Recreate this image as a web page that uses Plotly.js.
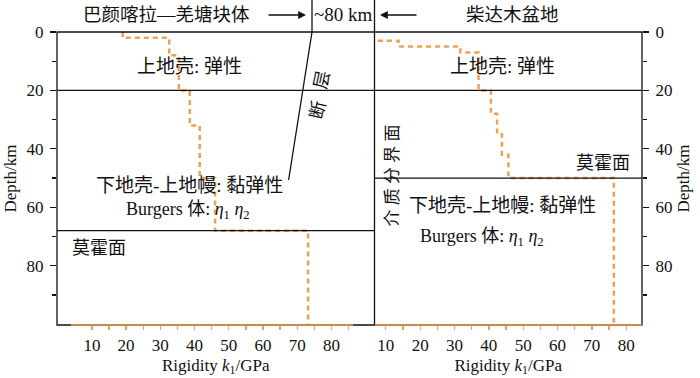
<!DOCTYPE html>
<html><head><meta charset="utf-8">
<script src="https://cdn.plot.ly/plotly-3.0.1.min.js"></script>
<style>html,body{margin:0;padding:0;background:#fff}</style>
</head><body>
<div id="chart" style="width:700px;height:378px"></div>
<script>
// ---- data ----
const leftDepthTop = [0, 2, 8, 20, 32, 50, 68];
const leftRigidity = [19, 32.6, 35.4, 38.6, 41.5, 46, 73.2];
const rightDepthTop = [0, 3, 5, 7, 20, 28, 35, 42, 50];
const rightRigidity = [5, 13.7, 31.7, 37, 40.6, 42.4, 43.8, 45.7, 76.4];
const bottomDepth = 100;
const upperCrustBase = 20;
const mohoLeft = 68;
const mohoRight = 50;
const yTickVals = [0, 20, 40, 60, 80];
const yMinorVals = [10, 30, 50, 70, 90];
const xTickVals = [10, 20, 30, 40, 50, 60, 70, 80];
const xMinorLeft = [15, 25, 35, 45, 55, 65, 75, 85];
const xMinorRight = [15, 25, 35, 45, 55, 65, 75];

// ---- helpers ----
const W = 700, H = 378;
const px = v => v / W;
const py = v => 1 - v / H;
const ORANGE = '#f0a055';
const FONT = 'Liberation Serif, Noto Sans CJK SC, serif';

function stepTrace(rig, depth, xa, ya) {
  return {
    x: rig.concat([rig[rig.length - 1]]),
    y: depth.concat([bottomDepth]),
    xaxis: xa, yaxis: ya,
    type: 'scatter', mode: 'lines',
    line: {shape: 'vh', color: ORANGE, width: 2.5, dash: '5px,4px'},
    hoverinfo: 'skip', showlegend: false
  };
}

const traces = [
  stepTrace(leftRigidity, leftDepthTop, 'x', 'y'),
  stepTrace(rightRigidity, rightDepthTop, 'x2', 'y2')
];

const yDomain = [py(325), py(32)];
const xTitle = {text: 'Rigidity <i>k</i><sub>1</sub>/GPa', font: {family: FONT, size: 17, color: '#111'}, standoff: 4};
const yTitle = {text: 'Depth/km', font: {family: FONT, size: 17, color: '#111'}, standoff: 5};

function xAxis(domain, range, minor) {
  return {
    domain: domain, range: range, showgrid: false, zeroline: false, showline: false,
    tickmode: 'array', tickvals: xTickVals, ticks: 'outside', ticklen: 4, tickwidth: 1.3,
    tickcolor: ORANGE, tickfont: {family: FONT, size: 17, color: '#111'},
    minor: {tickmode: 'array', tickvals: minor, ticks: 'outside', ticklen: 4, tickwidth: 1.3, tickcolor: ORANGE, showgrid: false},
    ticklabelstandoff: 1,
    title: xTitle, fixedrange: true
  };
}
function yAxis(anchor, side) {
  return {
    domain: yDomain, range: [100.3, 0], anchor: anchor, side: side,
    showgrid: false, zeroline: false, showline: false,
    tickmode: 'array', tickvals: yTickVals, ticks: 'outside', ticklen: 6, tickwidth: 1.2,
    tickcolor: '#111', tickfont: {family: FONT, size: 17, color: '#111'},
    minor: {tickmode: 'array', tickvals: yMinorVals, ticks: 'outside', ticklen: 4, tickwidth: 1.2, tickcolor: '#111', showgrid: false},
    ticklabelstandoff: 3,
    title: yTitle, fixedrange: true
  };
}

const black = {color: '#111', width: 1.3};
const shapes = [
  {type: 'rect', xref: 'paper', yref: 'paper', x0: px(57), x1: px(642), y0: py(325), y1: py(32), line: black, layer: 'above'},
  {type: 'line', xref: 'paper', yref: 'paper', x0: px(374.5), x1: px(374.5), y0: py(0), y1: py(325), line: black, layer: 'above'},
  {type: 'line', xref: 'paper', yref: 'y', x0: px(57), x1: px(642), y0: upperCrustBase, y1: upperCrustBase, line: black, layer: 'above'},
  {type: 'line', xref: 'paper', yref: 'y', x0: px(57), x1: px(374.5), y0: mohoLeft, y1: mohoLeft, line: black, layer: 'above'},
  {type: 'line', xref: 'paper', yref: 'y2', x0: px(374.5), x1: px(642), y0: mohoRight, y1: mohoRight, line: black, layer: 'above'},
  {type: 'line', xref: 'paper', yref: 'paper', x0: px(312), x1: px(312), y0: py(0), y1: py(32), line: black, layer: 'above'},
  {type: 'line', xref: 'paper', yref: 'paper', x0: px(312), x1: px(288.6), y0: py(32), y1: py(180), line: black, layer: 'above'},
  {type: 'line', xref: 'x', yref: 'paper', x0: 3.9, x1: 86.3, y0: py(325), y1: py(325), line: {color: ORANGE, width: 1.6}, layer: 'above'},
  {type: 'line', xref: 'x2', yref: 'paper', x0: 6.7, x1: 84.6, y0: py(325), y1: py(325), line: {color: ORANGE, width: 1.6}, layer: 'above'}
];

function txt(text, x, y, size, extra) {
  return Object.assign({text: text, xref: 'paper', yref: 'paper', x: px(x), y: py(y),
    xanchor: 'center', yanchor: 'middle', showarrow: false,
    font: {family: FONT, size: size, color: '#111'}}, extra || {});
}
const eta = 'Burgers 体: <i>η</i><sub>1</sub> <i>η</i><sub>2</sub>';
const annotations = [
  txt('巴颜喀拉—羌塘块体', 166, 15, 18.5),
  txt('~80 km', 343, 15, 19),
  txt('柴达木盆地', 512, 15, 18.5),
  {text: '', xref: 'paper', yref: 'paper', x: px(306), y: py(15), ax: -39, ay: 0,
   showarrow: true, arrowhead: 2, arrowsize: 1.2, arrowwidth: 1.3, arrowcolor: '#111'},
  {text: '', xref: 'paper', yref: 'paper', x: px(380), y: py(15), ax: 38, ay: 0,
   showarrow: true, arrowhead: 2, arrowsize: 1.2, arrowwidth: 1.3, arrowcolor: '#111'},
  txt('层', 322, 80, 18, {textangle: -78}),
  txt('断', 318, 110, 18, {textangle: -78}),
  txt('上地壳: 弹性', 190, 67, 19),
  txt('上地壳: 弹性', 503, 67, 19),
  txt('下地壳-上地幔: 黏弹性', 190, 185, 19),
  txt(eta, 188, 210, 18),
  txt('莫霍面', 99, 248, 18),
  txt('介 质 分 界 面', 391.5, 176, 17, {textangle: -90}),
  txt('莫霍面', 603, 163, 18),
  txt('下地壳-上地幔: 黏弹性', 502, 205, 19),
  txt(eta, 482, 237, 18)
];

const layout = {
  width: W, height: H, margin: {l: 0, r: 0, t: 0, b: 0},
  paper_bgcolor: '#fff', plot_bgcolor: '#fff',
  showlegend: false,
  xaxis: xAxis([px(57), px(374.5)], [-0.2, 92.6], xMinorLeft),
  xaxis2: xAxis([px(374.5), px(642)], [6.7, 84.6], xMinorRight),
  yaxis: yAxis('x', 'left'),
  yaxis2: yAxis('x2', 'right'),
  shapes: shapes,
  annotations: annotations
};
layout.xaxis.anchor = 'y';
layout.xaxis2.anchor = 'y2';

Plotly.newPlot('chart', traces, layout, {staticPlot: true, displayModeBar: false});
</script>
</body></html>
